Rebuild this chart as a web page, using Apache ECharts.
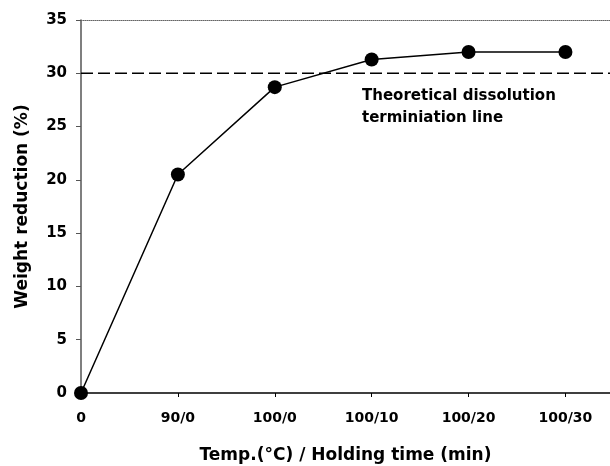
<!DOCTYPE html>
<html><head><meta charset="utf-8">
<script src="https://cdn.jsdelivr.net/npm/echarts@6/dist/echarts.min.js"></script>
<style>html,body{margin:0;padding:0;background:#fff}#c{width:610px;height:466px}</style>
</head><body><div id="c"></div>
<script>
const categories = ['0', '90/0', '100/0', '100/10', '100/20', '100/30'];
const weightReduction = [0, 20.5, 28.7, 31.3, 32.0, 32.0];
const theoreticalLine = 30;
const yTicks = [0, 5, 10, 15, 20, 25, 30, 35];
const annotation = ['Theoretical dissolution', 'terminiation line'];
const xTitle = 'Temp.(\u00B0C) / Holding time (min)';
const yTitle = 'Weight reduction (%)';

const FONT = '"DejaVu Sans", sans-serif';
const xMax = 5.46;
const chart = echarts.init(document.getElementById('c'), null, {renderer: 'canvas'});
chart.setOption({
  animation: false,
  backgroundColor: '#fff',
  grid: {left: 81, right: 0, top: 20, bottom: 73, outerBoundsMode: 'none', containLabel: false},
  xAxis: [{
    type: 'value', min: 0, max: xMax, interval: 1,
    name: xTitle, nameLocation: 'middle', nameGap: 54,
    nameTextStyle: {fontFamily: FONT, fontWeight: 'bold', fontSize: 17, color: '#000'},
    axisLine: {lineStyle: {color: '#000', width: 1.5}},
    axisTick: {show: true, length: 4, lineStyle: {color: '#000'}},
    axisLabel: {margin: 18, fontFamily: FONT, fontWeight: 'bold', fontSize: 14, color: '#000',
      formatter: v => Number.isInteger(v) && categories[v] !== undefined ? categories[v] : ''},
    splitLine: {show: false}
  }, {
    type: 'value', position: 'top', min: 0, max: xMax,
    axisLine: {show: true, lineStyle: {color: '#666', width: 1, type: 'dotted'}},
    axisTick: {show: false}, axisLabel: {show: false}, splitLine: {show: false}
  }],
  yAxis: {
    type: 'value', min: yTicks[0], max: yTicks[yTicks.length - 1], interval: 5,
    name: yTitle, nameLocation: 'middle', nameGap: 50,
    nameTextStyle: {fontFamily: FONT, fontWeight: 'bold', fontSize: 17, color: '#000'},
    axisLine: {show: true, lineStyle: {color: '#555', width: 1.5}},
    axisTick: {show: true, length: 5, lineStyle: {color: '#555'}},
    axisLabel: {margin: 14, fontFamily: FONT, fontWeight: 'bold', fontSize: 15, color: '#000'},
    splitLine: {show: false}
  },
  series: [{
    type: 'line',
    data: [[0, theoreticalLine], [xMax, theoreticalLine]],
    symbol: 'none',
    lineStyle: {color: '#000', width: 1.5, type: [12, 5]},
    z: 1
  }, {
    type: 'line',
    data: weightReduction.map((v, i) => [i, v]),
    symbol: 'circle', symbolSize: 14,
    itemStyle: {color: '#000'},
    lineStyle: {color: '#000', width: 1.5},
    z: 3
  }],
  graphic: [{
    type: 'text', left: 362, top: 85,
    style: {text: annotation.join('\n'), font: 'bold 15px ' + FONT, fill: '#000', lineHeight: 22}
  }]
});
</script></body></html>
